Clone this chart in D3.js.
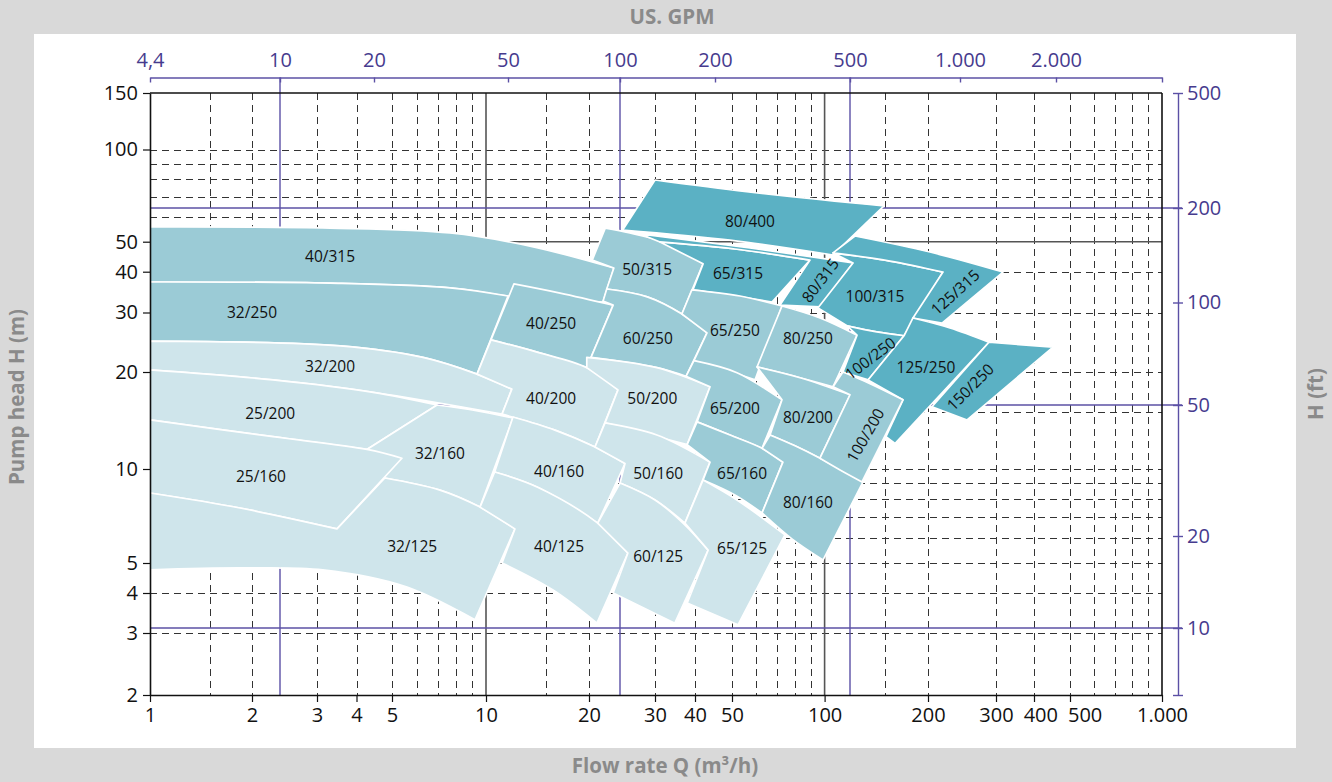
<!DOCTYPE html>
<html>
<head>
<meta charset="utf-8">
<script src="https://cdn.jsdelivr.net/npm/d3@7"></script>
<style>
  body { margin: 0; background: #d9d9d9; }
  svg { display: block; font-family: "Open Sans", "Noto Sans", sans-serif; }
</style>
</head>
<body>
<svg id="chart" width="1332" height="782"></svg>
<script>
// ---- axis values -------------------------------------------------------
const flowTicks = [1, 2, 3, 4, 5, 10, 20, 30, 40, 50, 100, 200, 300, 400, 500, 1000];
const headTicks = [2, 3, 4, 5, 10, 20, 30, 40, 50, 100, 150];
const gpmTicks = [4.4, 10, 20, 50, 100, 200, 500, 1000, 2000];
const feetTicks = [10, 20, 50, 100, 200, 500];
const flowGridDashed = [1.5, 2, 3, 4, 5, 6, 7, 8, 9, 15, 20, 30, 40, 50, 60, 70, 80, 90,
                        150, 200, 300, 400, 500, 600, 700, 800, 900];
const flowGridSolid = [10, 100];
const headGridDashed = [3, 4, 5, 6, 7, 8, 9, 10, 15, 20, 30, 40, 60, 70, 80, 90, 100];
const headGridSolid = [50];
const gpmGuides = [10, 100, 500];
const feetGuides = [10, 50, 200];

// ---- pump sizes --------------------------------------------------------
const pumpSizes = [
  "80/400", "40/315", "32/250", "40/250", "32/200", "25/200", "32/160", "25/160", "32/125",
  "40/200", "40/160", "40/125", "50/315", "60/250", "50/200", "50/160", "60/125",
  "65/315", "80/315", "65/250", "65/200", "65/160", "65/125", "80/250", "80/200", "80/160",
  "100/315", "125/315", "100/250", "125/250", "150/250", "100/200"
];
// 0 = light, 1 = medium, 2 = dark
const pumpShade = [
  2, 1, 1, 1, 0, 0, 0, 0, 0,
  0, 0, 0, 1, 1, 0, 0, 0,
  2, 2, 1, 1, 1, 0, 1, 1, 1,
  2, 2, 2, 2, 2, 1
];
// operating range of each size as a ring of runs in [Q m3/h, H m];
// a run of 3+ points is a smooth pump curve, runs are joined by straight edges
const pumpOutlines = [
  /* 80/400 */ [[[30.0, 79.5], [55.8, 72.8], [148.9, 65.4]], [[105.8, 45.3], [49.4, 50.6], [24.6, 54.6]]],
  /* 40/315 */ [[[1, 55.85], [3.30, 55.4], [7.67, 53.4], [13.45, 48.4], [23.3, 41.1]],
                [[21.8, 32.3], [11.6, 33.7], [7.67, 35.7], [3.30, 36.9], [1, 37.2]]],
  /* 32/250 */ [[[1, 37.2], [3.30, 36.9], [7.67, 35.7], [11.6, 33.7]],
                [[9.36, 19.7], [6.28, 22.1], [3.55, 23.9], [1, 24.7]]],
  /* 40/250 */ [[[12.07, 36.7], [16.46, 34.4], [23.2, 31.6]], [[19.7, 20.6], [14.1, 22.9], [10.34, 24.9]]],
  /* 32/200 */ [[[1, 24.7], [3.55, 23.9], [6.28, 22.1], [9.36, 19.7], [11.9, 17.7]],
                [[11.14, 14.8], [4.44, 17.3], [2.28, 18.9], [1, 20.3]]],
  /* 25/200 */ [[[1, 20.3], [2.28, 18.9], [4.44, 17.3], [6.97, 15.8]], [[4.27, 11.5], [2.28, 12.6], [1, 14.2]]],
  /* 32/160 */ [[[6.97, 15.8], [9.22, 15.2], [11.99, 14.4]], [[9.57, 7.55], [7.12, 8.56], [4.78, 9.36]], [[4.27, 11.5]]],
  /* 25/160 */ [[[1, 14.2], [2.28, 12.6], [4.27, 11.5], [5.38, 10.8]], [[3.47, 6.43], [1.844, 7.50], [1, 8.38]]],
  /* 32/125 */ [[[1, 8.38], [1.844, 7.50], [3.47, 6.43]],
                [[4.78, 9.36], [7.12, 8.56], [9.57, 7.55], [12.15, 6.43]],
                [[9.22, 3.30], [5.585, 4.18], [3.13, 4.75], [1.844, 4.82], [1, 4.75]]],
  /* 40/200 */ [[[10.34, 24.9], [14.1, 22.9], [19.7, 20.6], [23.9, 17.6]],
                [[20.75, 11.7], [15.9, 13.2], [11.14, 14.8]], [[11.9, 17.7]], [[9.36, 19.7]]],
  /* 40/160 */ [[[11.99, 14.5], [15.9, 13.2], [20.75, 11.7], [24.95, 10.4]],
                [[21.1, 6.71], [14.1, 8.76], [10.6, 9.78]]],
  /* 40/125 */ [[[10.6, 9.78], [14.1, 8.76], [21.1, 6.71], [25.4, 5.38]],
                [[21.0, 3.22], [15.7, 4.09], [11.14, 5.0]], [[12.15, 6.43]], [[9.57, 7.55]]],
  /* 50/315 */ [[[22.1, 55.4], [25.7, 53.4], [32.7, 49.5], [42.0, 42.4]],
                [[36.4, 29.7], [28.6, 33.5], [22.3, 35.4]], [[23.3, 41.1]], [[20.4, 43.6]]],
  /* 60/250 */ [[[22.3, 35.4], [28.6, 33.5], [36.4, 29.7], [43.0, 26.1]],
                [[37.5, 19.4], [30.4, 20.6], [20.25, 22.1]], [[23.2, 31.6]], [[21.8, 32.5]]],
  /* 50/200 */ [[[19.7, 22.1], [30.4, 20.6], [43.8, 18.0]],
                [[37.8, 11.9], [27.4, 13.0], [22.07, 13.9]], [[23.9, 17.6]], [[19.7, 20.6]]],
  /* 50/160 */ [[[22.07, 13.9], [30.4, 12.75], [43.8, 10.5]],
                [[37.2, 6.71], [30.0, 7.96], [24.2, 9.02]], [[24.95, 10.4]], [[20.75, 11.7]]],
  /* 60/125 */ [[[24.2, 9.02], [30.0, 7.96], [36.7, 6.71], [43.3, 5.50]],
                [[34.6, 3.22]], [[23.2, 4.0]], [[25.4, 5.38]], [[21.1, 6.71]]],
  /* 65/315 */ [[[31.1, 49.9], [51.1, 47.35], [89.65, 43.6]],
                [[67.45, 32.3], [51.1, 33.7], [39.4, 35.2]], [[42.0, 42.4]]],
  /* 80/315 */ [[[27.4, 53.0], [57.2, 47.7], [121.0, 42.7]], [[96.6, 31.2]], [[71.6, 31.6]],
                [[89.65, 43.6], [51.1, 47.35], [31.1, 49.9]]],
  /* 65/250 */ [[[39.1, 35.2], [53.1, 33.7], [72.7, 31.4]],
                [[59.4, 18.9], [47.9, 20.3], [39.7, 21.6]], [[43.0, 26.1]], [[36.4, 29.7]]],
  /* 65/200 */ [[[39.7, 21.6], [51.9, 19.9], [72.7, 16.4]],
                [[62.6, 11.6], [49.4, 12.75], [40.5, 14.0]], [[43.8, 18.0]], [[37.5, 19.4]]],
  /* 65/160 */ [[[40.5, 14.0], [49.4, 12.75], [62.6, 11.6], [73.2, 10.5]],
                [[62.6, 7.23], [51.1, 8.26], [42.0, 9.22]], [[43.8, 10.5]], [[37.8, 11.9]]],
  /* 65/125 */ [[[42.0, 9.22], [51.9, 7.96], [74.3, 6.15]],
                [[52.3, 3.18]], [[37.8, 3.72]], [[43.3, 5.50]], [[37.2, 6.71]]],
  /* 80/250 */ [[[72.7, 31.4], [96.6, 28.9], [124.3, 25.7]], [[105.8, 18.0], [83.2, 19.2], [60.3, 20.7]]],
  /* 80/200 */ [[[60.3, 20.7], [83.2, 19.2], [118.6, 17.0]],
                [[96.6, 10.8], [80.1, 11.8], [66.45, 12.75]], [[72.7, 16.4]]],
  /* 80/160 */ [[[66.45, 12.75], [80.1, 11.8], [96.6, 10.8], [129.4, 9.09]],
                [[98.8, 5.11], [78.3, 5.97], [62.6, 7.23]], [[73.2, 10.5]], [[62.6, 11.6]]],
  /* 100/315 */ [[[105.8, 46.0], [155.0, 43.3], [218.7, 39.9]],
                 [[170.3, 25.6], [141.8, 26.3], [116.2, 27.4]], [[95.2, 31.0]], [[121.0, 42.7]]],
  /* 125/315 */ [[[122.6, 52.2], [202.4, 46.3], [316.3, 39.9]], [[217.4, 27.9]], [[180.8, 28.9]],
                 [[218.7, 39.9], [155.0, 43.3], [105.8, 46.0]]],
  /* 100/250 */ [[[116.2, 27.4], [141.8, 26.3], [170.3, 25.6]], [[133.8, 18.9]], [[113.1, 20.0]], [[124.3, 25.7]]],
  /* 125/250 */ [[[180.8, 28.9], [228.0, 27.0], [287.7, 24.5]], [[160.3, 12.0]], [[150.9, 12.6]],
                 [[169.1, 16.4]], [[133.8, 18.9]], [[170.3, 25.6]]],
  /* 150/250 */ [[[287.7, 24.5], [450.1, 23.7]], [[252.5, 14.2]], [[204.8, 15.6]]],
  /* 100/200 */ [[[113.1, 20.0], [135.6, 18.4], [169.1, 16.4]], [[128.5, 9.09], [110.9, 9.93], [96.6, 10.8]],
                 [[118.6, 17.0]], [[105.8, 18.0]]]
];
const pumpLabelAt = [
  [57.2, 58.4], [3.30, 45.0], [2.0, 30.1], [15.5, 27.9], [3.30, 20.8], [2.24, 14.9], [7.12, 11.2], [2.115, 9.50], [5.80, 5.67],
  [15.5, 16.6], [16.35, 9.85], [16.35, 5.67], [28.6, 40.8], [28.7, 25.2], [29.5, 16.6], [30.7, 9.71], [30.7, 5.27],
  [52.3, 39.6], [96.6, 37.7], [51.1, 26.6], [51.1, 15.5], [53.9, 9.71], [53.9, 5.58], [88.3, 25.2], [88.3, 14.5], [88.3, 7.84],
  [140.2, 33.7], [234.9, 34.7], [135.6, 22.0], [197.3, 20.7], [256.9, 18.0], [131.2, 12.75]
];

// ---- layout & style ----------------------------------------------------
const shadeFill = ["#cfe5eb", "#9bcbd6", "#5bb1c4"];
const labelTilt = { "80/315": -53, "100/250": -37, "125/315": -42, "150/250": -45, "100/200": -60 };
const purple = "#5b50a5";
const purpleText = "#463b8e";
const gridColor = "#333";

const svg = d3.select("#chart");
svg.append("rect").attr("width", 1332).attr("height", 782).attr("fill", "#d9d9d9");
svg.append("rect").attr("x", 34).attr("y", 34).attr("width", 1262).attr("height", 714).attr("fill", "#ffffff");

// The log paper of this diagram is ruled decade by decade with its own
// spacing for the 2-3-4-5 lines, so every axis is a piecewise log scale
// anchored on its ruled values.
const x = d3.scaleLog()
  .domain([1, 2, 3, 4, 5, 10, 20, 30, 40, 50, 100, 200, 300, 400, 500, 1000])
  .range([150, 252, 317, 356.5, 392, 486, 589, 655, 695, 732, 824.6, 928, 996, 1034, 1070, 1162]);
const y = d3.scaleLog()
  .domain([2, 3, 4, 5, 10, 20, 30, 40, 50, 100, 150])
  .range([695, 633, 593, 563, 469, 372, 312.5, 271.7, 241.7, 149.5, 93]);
// secondary units: US gallons per minute and feet of head
const xGpm = d3.scaleLog()
  .domain([4.4, 10, 20, 50, 100, 200, 500, 1000, 2000, 4403])
  .range([150, 280, 374, 508, 620, 715, 850, 960, 1056, 1162]);
const yFt = d3.scaleLog()
  .domain([6.1, 10, 20, 50, 100, 200, 500])
  .range([695, 628, 536, 405, 302.5, 208, 93]);

const xr = x.range(), yr = y.range();
const plotLeft = xr[0], plotRight = xr[xr.length - 1];
const plotBottom = yr[0], plotTop = yr[yr.length - 1];
const gpmAxisY = 77.5;
const ftAxisX = 1178;
const crisp = v => Math.round(v) + 0.5;   // keep 1px rules sharp

// ---- grid --------------------------------------------------------------
const grid = svg.append("g");
grid.selectAll("line.vd").data(flowGridDashed).join("line").attr("class", "vd")
  .attr("x1", d => crisp(x(d))).attr("x2", d => crisp(x(d))).attr("y1", plotTop).attr("y2", plotBottom)
  .attr("stroke", gridColor).attr("stroke-width", 1).attr("stroke-dasharray", "7 5");
grid.selectAll("line.hd").data(headGridDashed).join("line").attr("class", "hd")
  .attr("x1", plotLeft).attr("x2", plotRight).attr("y1", d => crisp(y(d))).attr("y2", d => crisp(y(d)))
  .attr("stroke", gridColor).attr("stroke-width", 1).attr("stroke-dasharray", "7 5");
grid.selectAll("line.vs").data(flowGridSolid).join("line").attr("class", "vs")
  .attr("x1", d => x(d)).attr("x2", d => x(d)).attr("y1", plotTop).attr("y2", plotBottom)
  .attr("stroke", "#555").attr("stroke-width", 1.6);
grid.selectAll("line.hs").data(headGridSolid).join("line").attr("class", "hs")
  .attr("x1", plotLeft).attr("x2", plotRight).attr("y1", d => y(d)).attr("y2", d => y(d))
  .attr("stroke", "#555").attr("stroke-width", 1.6);
grid.selectAll("line.gv").data(gpmGuides).join("line").attr("class", "gv")
  .attr("x1", d => xGpm(d)).attr("x2", d => xGpm(d)).attr("y1", gpmAxisY).attr("y2", plotBottom)
  .attr("stroke", purple).attr("stroke-width", 1.4);
grid.selectAll("line.gh").data(feetGuides).join("line").attr("class", "gh")
  .attr("x1", plotLeft).attr("x2", ftAxisX + 4).attr("y1", d => yFt(d)).attr("y2", d => yFt(d))
  .attr("stroke", purple).attr("stroke-width", 1.4);

// ---- pump size areas ---------------------------------------------------
const smooth = d3.line().curve(d3.curveCatmullRom.alpha(0.5));
function outlinePath(runs) {
  let d = "";
  runs.forEach((run, i) => {
    const pts = run.map(([q, h]) => [x(q), y(h)]);
    if (pts.length >= 3) {
      const seg = smooth(pts);
      d += i === 0 ? seg : "L" + seg.slice(1);
    } else {
      pts.forEach((p, j) => { d += (i === 0 && j === 0 ? "M" : "L") + p[0] + "," + p[1]; });
    }
  });
  return d + "Z";
}

const areas = svg.append("g");
// 32/160 tucks under the corner of 25/160, so it is painted first
const drawOrder = pumpSizes.map((_, i) => i);
const i25 = pumpSizes.indexOf("25/160"), i32 = pumpSizes.indexOf("32/160");
drawOrder.splice(drawOrder.indexOf(i32), 1);
drawOrder.splice(drawOrder.indexOf(i25), 0, i32);

areas.selectAll("path").data(drawOrder).join("path")
  .attr("d", i => outlinePath(pumpOutlines[i]))
  .attr("fill", i => shadeFill[pumpShade[i]])
  .attr("stroke", "#ffffff").attr("stroke-width", 1.7).attr("stroke-linejoin", "round");

areas.selectAll("text").data(pumpSizes).join("text")
  .attr("transform", (d, i) => {
    const [q, h] = pumpLabelAt[i];
    return `translate(${x(q)},${y(h)}) rotate(${labelTilt[d] || 0})`;
  })
  .attr("text-anchor", "middle").attr("dominant-baseline", "central")
  .attr("font-size", 15.5).attr("fill", "#111")
  .text(d => d);

// ---- frame & axes ------------------------------------------------------
const euro = d => d >= 1000 ? d3.format(",")(d).replace(/,/g, ".") : String(d).replace(".", ",");

svg.append("line").attr("x1", plotLeft).attr("x2", plotRight).attr("y1", plotTop).attr("y2", plotTop)
  .attr("stroke", "#111").attr("stroke-width", 1.6);
svg.append("line").attr("x1", plotRight).attr("x2", plotRight).attr("y1", plotTop).attr("y2", plotBottom)
  .attr("stroke", "#111").attr("stroke-width", 1.6);

const xAxis = svg.append("g").attr("transform", `translate(0,${plotBottom})`)
  .call(d3.axisBottom(x).tickValues(flowTicks).tickFormat(euro).tickSize(7).tickPadding(6).tickSizeOuter(0));
const yAxis = svg.append("g").attr("transform", `translate(${plotLeft},0)`)
  .call(d3.axisLeft(y).tickValues(headTicks).tickFormat(euro).tickSize(7).tickPadding(5).tickSizeOuter(0));
[xAxis, yAxis].forEach(g => {
  g.attr("font-family", null).attr("font-size", null);
  g.select(".domain").attr("stroke", "#111").attr("stroke-width", 1.6);
  g.selectAll(".tick line").attr("stroke", "#111").attr("stroke-width", 1.2);
  g.selectAll(".tick text").attr("fill", "#111").attr("font-size", 20);
});
// keep crowded flow labels apart
let prevRight = -Infinity;
xAxis.selectAll(".tick").each(function (d) {
  const t = d3.select(this).select("text");
  const w = t.node().getBBox().width;
  let cx = x(d);
  const gap = 10;
  if (cx - w / 2 < prevRight + gap) {
    const shift = prevRight + gap - (cx - w / 2);
    t.attr("dx", shift);
    cx += shift;
  }
  prevRight = cx + w / 2;
});

const gpmAxis = svg.append("g").attr("transform", `translate(0,${gpmAxisY})`)
  .call(d3.axisTop(xGpm).tickValues([...gpmTicks, 4403])
    .tickFormat(d => gpmTicks.includes(d) ? euro(d) : "").tickSize(5).tickPadding(6).tickSizeOuter(0));
const ftAxis = svg.append("g").attr("transform", `translate(${ftAxisX},0)`)
  .call(d3.axisRight(yFt).tickValues([6.1, ...feetTicks])
    .tickFormat(d => feetTicks.includes(d) ? euro(d) : "").tickSize(4).tickPadding(5).tickSizeOuter(0));
gpmAxis.selectAll(".tick line").attr("y2", 5);
ftAxis.selectAll(".tick line").attr("x1", -5).attr("x2", 5);
[gpmAxis, ftAxis].forEach(g => {
  g.attr("font-family", null).attr("font-size", null);
  g.select(".domain").attr("stroke", purple).attr("stroke-width", 1.4);
  g.selectAll(".tick line").attr("stroke", purple).attr("stroke-width", 1.4);
  g.selectAll(".tick text").attr("fill", purpleText).attr("font-size", 20);
});

// ---- titles ------------------------------------------------------------
const titleColor = "#8a8a8a";
const titleSize = 20.5;
svg.append("text").attr("x", 672).attr("y", 24).attr("text-anchor", "middle")
  .attr("font-size", titleSize).attr("font-weight", 700).attr("fill", titleColor).text("US. GPM");
svg.append("text").attr("x", 665).attr("y", 773).attr("text-anchor", "middle")
  .attr("font-size", titleSize).attr("font-weight", 700).attr("fill", titleColor).text("Flow rate Q (m³/h)");
svg.append("text").attr("transform", "translate(24,397) rotate(-90)").attr("text-anchor", "middle")
  .attr("font-size", titleSize).attr("font-weight", 700).attr("fill", titleColor).text("Pump head H (m)");
svg.append("text").attr("transform", "translate(1323,394) rotate(-90)").attr("text-anchor", "middle")
  .attr("font-size", titleSize).attr("font-weight", 700).attr("fill", titleColor).text("H (ft)");
</script>
</body>
</html>
